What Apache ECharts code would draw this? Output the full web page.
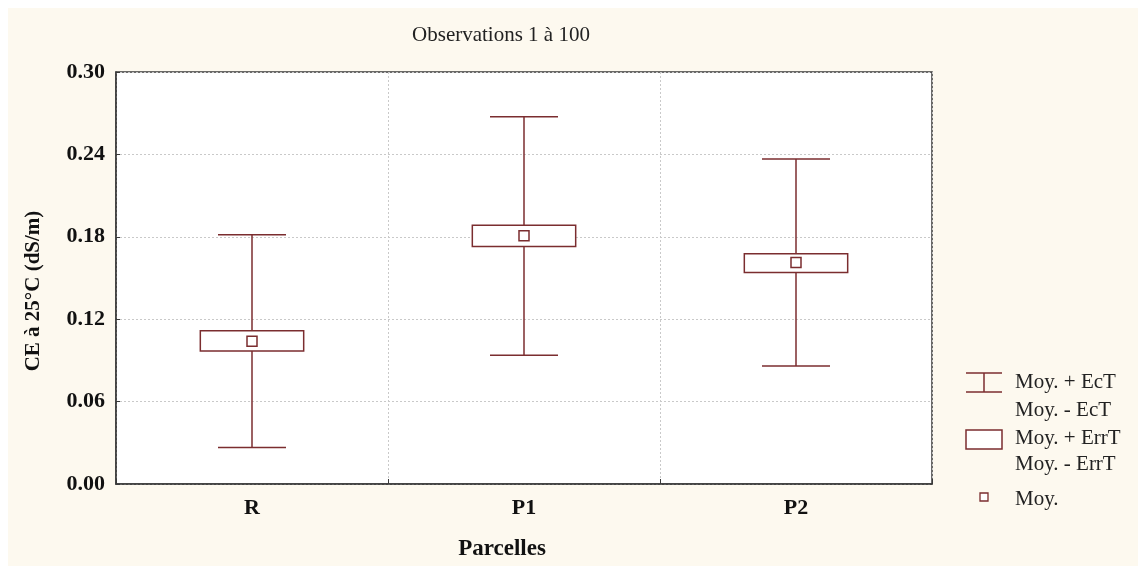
<!DOCTYPE html>
<html>
<head>
<meta charset="utf-8">
<script src="https://cdn.jsdelivr.net/npm/echarts@6/dist/echarts.min.js"></script>
<style>
  html, body { margin: 0; padding: 0; background: #ffffff; width: 1144px; height: 566px; overflow: hidden; }
  #chart { position: absolute; left: 8px; top: 8px; width: 1130px; height: 558px; background: #fdf9ef; }
</style>
</head>
<body>
<div id="chart"></div>
<script>
// Parcelles and their conductivity summaries (CE à 25°C, dS/m)
const categories = ['R', 'P1', 'P2'];
const means      = [0.1040, 0.1807, 0.1612];
const ectHigh    = [0.1815, 0.2675, 0.2367];   // Moy. + EcT
const ectLow     = [0.0265, 0.0937, 0.0859];   // Moy. - EcT
const errHigh    = [0.1115, 0.1884, 0.1677];   // Moy. + ErrT
const errLow     = [0.0968, 0.1729, 0.1540];   // Moy. - ErrT
const yTicks     = [0, 0.06, 0.12, 0.18, 0.24, 0.30];

const MAROON = '#7b2d2f';
const SERIF = '"Liberation Serif", "Times New Roman", serif';

const rows = categories.map((c, i) => [i, ectLow[i], errLow[i], means[i], errHigh[i], ectHigh[i]]);

function renderBox(params, api) {
  const i = api.value(0);
  const lo = api.coord([i, api.value(1)]);
  const bLo = api.coord([i, api.value(2)]);
  const m = api.coord([i, api.value(3)]);
  const bHi = api.coord([i, api.value(4)]);
  const hi = api.coord([i, api.value(5)]);
  const band = api.size([1, 0])[0];
  const capW = band * 0.25;
  const boxW = band * 0.38;
  const x = m[0];
  const st = { stroke: MAROON, lineWidth: 1.5, fill: null };
  return {
    type: 'group',
    children: [
      { type: 'line', shape: { x1: x, y1: hi[1], x2: x, y2: bHi[1] }, style: st },
      { type: 'line', shape: { x1: x, y1: bLo[1], x2: x, y2: lo[1] }, style: st },
      { type: 'line', shape: { x1: x - capW / 2, y1: hi[1], x2: x + capW / 2, y2: hi[1] }, style: st },
      { type: 'line', shape: { x1: x - capW / 2, y1: lo[1], x2: x + capW / 2, y2: lo[1] }, style: st },
      { type: 'rect', shape: { x: x - boxW / 2, y: bHi[1], width: boxW, height: bLo[1] - bHi[1] },
        style: { stroke: MAROON, lineWidth: 1.5, fill: '#ffffff' } },
      { type: 'rect', shape: { x: x - 5, y: m[1] - 5, width: 10, height: 10 },
        style: { stroke: MAROON, lineWidth: 1.5, fill: '#ffffff' } }
    ]
  };
}

// Legend drawn as shapes + text on the right
const legendText = { fill: '#222', font: '21px ' + SERIF, textVerticalAlign: 'middle' };
const LX = 958, LT = 1007;
const legend = [
  { type: 'line', shape: { x1: LX, y1: 365, x2: LX + 36, y2: 365 }, style: { stroke: MAROON, lineWidth: 1.5 } },
  { type: 'line', shape: { x1: LX, y1: 384, x2: LX + 36, y2: 384 }, style: { stroke: MAROON, lineWidth: 1.5 } },
  { type: 'line', shape: { x1: LX + 18, y1: 365, x2: LX + 18, y2: 384 }, style: { stroke: MAROON, lineWidth: 1.5 } },
  { type: 'text', x: LT, y: 374, style: Object.assign({ text: 'Moy. + EcT' }, legendText) },
  { type: 'text', x: LT, y: 402, style: Object.assign({ text: 'Moy. - EcT' }, legendText) },
  { type: 'rect', shape: { x: LX, y: 422, width: 36, height: 19 }, style: { stroke: MAROON, lineWidth: 1.5, fill: '#ffffff' } },
  { type: 'text', x: LT, y: 430, style: Object.assign({ text: 'Moy. + ErrT' }, legendText) },
  { type: 'text', x: LT, y: 456, style: Object.assign({ text: 'Moy. - ErrT' }, legendText) },
  { type: 'rect', shape: { x: LX + 14, y: 485, width: 8, height: 8 }, style: { stroke: MAROON, lineWidth: 1.3, fill: '#ffffff' } },
  { type: 'text', x: LT, y: 491, style: Object.assign({ text: 'Moy.' }, legendText) }
];

const chart = echarts.init(document.getElementById('chart'), null, { renderer: 'canvas' });
chart.setOption({
  backgroundColor: 'transparent',
  animation: false,
  title: {
    text: 'Observations 1 à 100',
    left: 488, top: 12,
    textAlign: 'center',
    textStyle: { fontFamily: SERIF, fontSize: 21, fontWeight: 'normal', color: '#222' }
  },
  grid: {
    left: 108, top: 64, right: 206, bottom: 82,
    show: true, backgroundColor: '#ffffff', borderColor: '#3a3a3a', borderWidth: 1.5
  },
  xAxis: {
    type: 'category',
    data: categories,
    boundaryGap: true,
    name: 'Parcelles',
    nameLocation: 'middle',
    nameGap: 54,
    nameTextStyle: { fontFamily: SERIF, fontSize: 23, fontWeight: 'bold', color: '#111', padding: [0, 44, 0, 0] },
    axisLine: { lineStyle: { color: '#3a3a3a', width: 1.5 } },
    axisTick: { show: true, inside: true, length: 5, lineStyle: { color: '#3a3a3a' } },
    axisLabel: { fontFamily: SERIF, fontSize: 22, fontWeight: 'bold', color: '#111', margin: 13 },
    splitLine: { show: true, lineStyle: { color: '#c9c9c9', type: [2, 2], width: 1 } }
  },
  yAxis: {
    type: 'value',
    min: yTicks[0], max: yTicks[yTicks.length - 1], interval: 0.06,
    name: 'CE à 25°C (dS/m)',
    nameLocation: 'middle',
    nameGap: 72,
    nameTextStyle: { fontFamily: SERIF, fontSize: 21, fontWeight: 'bold', color: '#111', padding: [0, 26, 0, 0] },
    axisLine: { show: true, lineStyle: { color: '#3a3a3a', width: 1.5 } },
    axisTick: { show: true, inside: true, length: 4, lineStyle: { color: '#3a3a3a' } },
    axisLabel: { fontFamily: SERIF, fontSize: 22, fontWeight: 'bold', color: '#111', margin: 11,
                 formatter: v => v.toFixed(2) },
    splitLine: { show: true, lineStyle: { color: '#c9c9c9', type: [2, 2], width: 1 } }
  },
  series: [{
    type: 'custom',
    renderItem: renderBox,
    encode: { x: 0, y: [1, 2, 3, 4, 5] },
    data: rows,
    z: 5
  }],
  graphic: legend
});
</script>
</body>
</html>
